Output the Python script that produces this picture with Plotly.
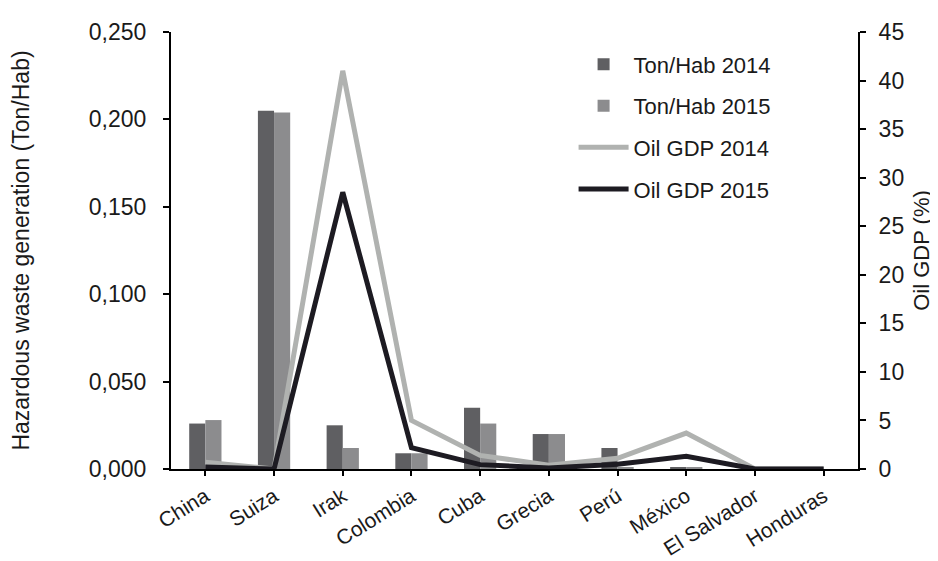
import plotly.graph_objects as go

countries = ["China", "Suiza", "Irak", "Colombia", "Cuba", "Grecia", "Perú", "México", "El Salvador", "Honduras"]
ton_hab_2014 = [0.026, 0.205, 0.025, 0.009, 0.035, 0.020, 0.012, 0.001, 0.0, 0.0]
ton_hab_2015 = [0.028, 0.204, 0.012, 0.009, 0.026, 0.020, 0.001, 0.001, 0.0, 0.0]
oil_gdp_2014 = [0.7, 0.0, 41.0, 5.0, 1.4, 0.4, 1.1, 3.7, 0.0, 0.0]
oil_gdp_2015 = [0.2, 0.0, 28.5, 2.2, 0.45, 0.1, 0.5, 1.3, 0.0, 0.0]

fig = go.Figure()
fig.add_trace(go.Bar(x=countries, y=ton_hab_2014, name="Ton/Hab 2014", legendgroup="a",
                     marker=dict(color="#5f5f62", line=dict(width=0))))
fig.add_trace(go.Bar(x=countries, y=ton_hab_2015, name="Ton/Hab 2015", legendgroup="b",
                     marker=dict(color="#8c8c8e", line=dict(width=0))))
fig.add_trace(go.Scatter(x=countries, y=oil_gdp_2014, name="Oil GDP 2014", mode="lines", legendgroup="c",
                         line=dict(color="#b0b2b0", width=5), yaxis="y2"))
fig.add_trace(go.Scatter(x=countries, y=oil_gdp_2015, name="Oil GDP 2015", mode="lines", legendgroup="d",
                         line=dict(color="#1d1b22", width=5), yaxis="y2"))

font_family = "Liberation Sans, Arial, sans-serif"
txt = "#1a1a1a"
fig.update_layout(
    width=938, height=561,
    margin=dict(l=163, r=88, t=24, b=100),
    paper_bgcolor="white", plot_bgcolor="white",
    separators=",.",
    barmode="group", bargap=0.53, bargroupgap=0,
    font=dict(family=font_family, color=txt, size=22),
    showlegend=True,
    legend=dict(x=0.586, y=0.974, xanchor="left", yanchor="top",
                bgcolor="rgba(0,0,0,0)", font=dict(size=22, color=txt),
                itemwidth=50, tracegroupgap=10),
    xaxis=dict(
        showline=True, linecolor="black", linewidth=2,
        ticks="outside", ticklen=5, tickcolor="black", tickwidth=2,
        tickangle=-32, tickfont=dict(size=21, color=txt),
        showgrid=False, mirror=False, automargin=False,
    ),
    yaxis=dict(
        range=[0, 0.25], tickvals=[0, 0.05, 0.1, 0.15, 0.2, 0.25], tickformat=".3f",
        showline=True, linecolor="black", linewidth=2,
        ticks="outside", ticklen=6, tickcolor="black", tickwidth=2,
        ticklabelstandoff=12,
        showgrid=False, zeroline=False, automargin=False,
        tickfont=dict(size=23, color=txt),
        title=dict(text="Hazardous waste generation (Ton/Hab)", font=dict(size=23, color=txt), standoff=60),
    ),
    yaxis2=dict(
        range=[0, 45], tickvals=list(range(0, 50, 5)), overlaying="y", side="right",
        showline=True, linecolor="black", linewidth=2,
        ticks="outside", ticklen=6, tickcolor="black", tickwidth=2,
        ticklabelstandoff=8,
        showgrid=False, zeroline=False, automargin=False,
        tickfont=dict(size=23, color=txt),
        title=dict(text="Oil GDP (%)", font=dict(size=22, color=txt), standoff=10),
    ),
)

fig.write_html("out.html")
